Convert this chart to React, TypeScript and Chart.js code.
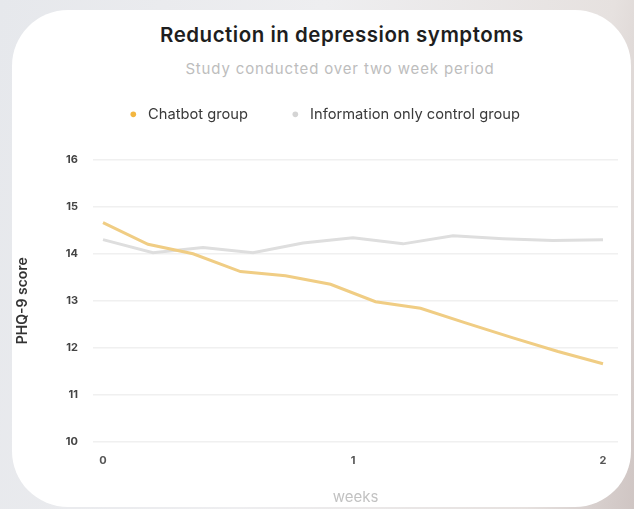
import React, { useEffect, useRef } from "react";
import { Chart, registerables } from "chart.js";

Chart.register(...registerables);

// ---- data ----
const titleText = "Reduction in depression symptoms";
const subtitleText = "Study conducted over two week period";
const seriesLabels = ["Chatbot group", "Information only control group"];
const chatbotWeeks = [0, 0.18, 0.36, 0.55, 0.73, 0.91, 1.09, 1.27, 1.45, 1.64, 1.82, 2.0];
const chatbotScores = [14.66, 14.2, 14.0, 13.62, 13.53, 13.35, 12.98, 12.84, 12.53, 12.21, 11.92, 11.66];
const controlWeeks = [0, 0.2, 0.4, 0.6, 0.8, 1.0, 1.2, 1.4, 1.6, 1.8, 2.0];
const controlScores = [14.3, 14.02, 14.13, 14.02, 14.23, 14.34, 14.21, 14.38, 14.32, 14.28, 14.3];
const xTickValues = [0, 1, 2];
const xTickLabels = ["0", "1", "2"];
const xAxisTitle = "weeks";
const yAxisTitle = "PHQ-9 score";
const yMin = 10;
const yMax = 16;

const FONT = "Inter, 'Noto Sans', sans-serif";

const legendSpacing = {
  id: "legendSpacing",
  beforeInit(chart: any) {
    const legend = chart.legend;
    if (!legend) return;
    const origFit = legend.fit;
    legend.fit = function () {
      origFit.call(this);
      this.height += 28;
    };
  },
  afterLayout(chart: any) {
    const l = chart.legend;
    if (l) {
      l.left += 7;
      l.right += 7;
    }
  },
};

export default function App() {
  const ref = useRef<HTMLCanvasElement>(null);

  useEffect(() => {
    document.body.style.margin = "0";
    const canvas = ref.current;
    if (!canvas) return;
    const chart = new Chart(canvas, {
      type: "line",
      data: {
        datasets: [
          {
            label: seriesLabels[0],
            data: chatbotWeeks.map((x, i) => ({ x, y: chatbotScores[i] })),
            borderColor: "#f0cd84",
            backgroundColor: "#f3b640",
            pointBackgroundColor: "#f3b640",
            pointBorderWidth: 0,
            pointRadius: 0,
            borderWidth: 3,
            tension: 0,
          },
          {
            label: seriesLabels[1],
            data: controlWeeks.map((x, i) => ({ x, y: controlScores[i] })),
            borderColor: "#dedede",
            backgroundColor: "#d4d4d4",
            pointBackgroundColor: "#d4d4d4",
            pointBorderWidth: 0,
            pointRadius: 0,
            borderWidth: 3,
            tension: 0,
          },
        ],
      },
      options: {
        responsive: false,
        animation: false,
        layout: { padding: { left: 14, right: 16, top: 67, bottom: 3 } },
        plugins: {
          legend: {
            position: "top",
            align: "center",
            labels: {
              usePointStyle: true,
              pointStyle: "circle",
              boxWidth: 14.7,
              boxHeight: 4,
              padding: 40,
              color: "#3a3a3a",
              font: { family: FONT, size: 14.7 },
            },
          },
          title: { display: false },
          tooltip: { enabled: false },
        },
        scales: {
          x: {
            type: "linear",
            min: -0.04,
            max: 2.06,
            afterBuildTicks: (s: any) => {
              s.ticks = xTickValues.map((v) => ({ value: v }));
            },
            ticks: {
              padding: 12,
              maxRotation: 0,
              color: "#555",
              font: { family: FONT, size: 11, weight: "bold" },
              callback: (v: any) => {
                const i = xTickValues.indexOf(Number(v));
                return i >= 0 ? xTickLabels[i] : "";
              },
            },
            grid: { display: false, drawTicks: false },
            border: { display: false },
            title: {
              display: true,
              text: xAxisTitle,
              color: "#c2c2c2",
              font: { family: FONT, size: 15 },
              padding: { top: 9, bottom: 0 },
            },
          },
          y: {
            min: yMin,
            max: yMax,
            afterFit: (s: any) => {
              s.width = 79;
            },
            ticks: {
              stepSize: 1,
              padding: 15,
              color: "#444",
              font: { family: FONT, size: 11, weight: "bold" },
            },
            grid: { color: "#f0f0f0", lineWidth: 1.5, drawTicks: false },
            border: { display: false },
            title: {
              display: true,
              text: yAxisTitle,
              color: "#333",
              font: { family: FONT, size: 14, weight: 600 },
              padding: { top: 0, bottom: 0 },
            },
          },
        },
      },
      plugins: [legendSpacing],
    });
    return () => chart.destroy();
  }, []);

  return (
    <div
      style={{
        position: "relative",
        width: 634,
        height: 509,
        overflow: "hidden",
        background:
          "linear-gradient(100deg, #e6e8ec 0%, #eeeef0 45%, #e6e1df 85%, #cfc5c3 100%)",
        fontFamily: FONT,
      }}
    >
      <div
        style={{
          position: "absolute",
          left: 12,
          top: 10,
          width: 619,
          height: 497,
          borderRadius: 56,
          background: "#ffffff",
        }}
      />
      <div
        style={{
          position: "absolute",
          left: 0,
          width: 684,
          top: 22,
          textAlign: "center",
          fontSize: 20.5,
          fontWeight: 600,
          color: "#1e1e1e",
          lineHeight: "26px",
          letterSpacing: "0.5px",
        }}
      >
        {titleText}
      </div>
      <div
        style={{
          position: "absolute",
          left: 0,
          width: 680,
          top: 59,
          textAlign: "center",
          fontSize: 15,
          color: "#bdbdbd",
          lineHeight: "20px",
          letterSpacing: "0.85px",
        }}
      >
        {subtitleText}
      </div>
      <canvas
        ref={ref}
        width={634}
        height={509}
        style={{ position: "absolute", left: 0, top: 0 }}
      />
    </div>
  );
}
